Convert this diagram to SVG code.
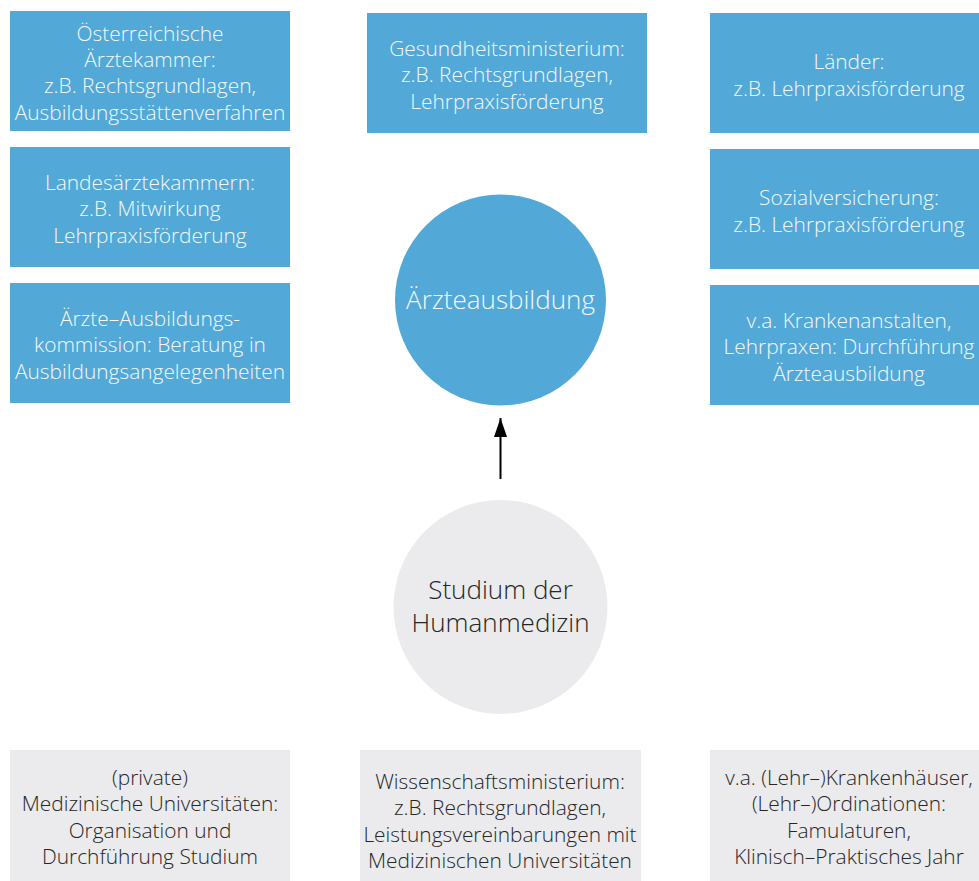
<svg xmlns="http://www.w3.org/2000/svg" width="979" height="881" viewBox="0 0 979 881">
<style>
.b{fill:#52a9d7}
.g{fill:#ebebed}
text{font-family:"Open Sans","Noto Sans",sans-serif;font-weight:300;font-size:20.9px;text-anchor:middle}
.w{fill:#f4f8fb}
.d{fill:#262626}
.big{font-size:26px}
</style>
<defs>
<marker id="ah" viewBox="0 0 19 13" refX="19" refY="6.5" markerWidth="9.5" markerHeight="6.5" orient="auto" markerUnits="strokeWidth">
<path d="M0,0 L19,6.5 L0,13 z" fill="#000"/>
</marker>
</defs>
<rect width="979" height="881" fill="#fff"/>
<g id="n1"><rect class="b" x="10" y="11" width="280" height="120"/>
<text class="w" x="150" y="41">Österreichische</text>
<text class="w" x="150" y="67">Ärztekammer:</text>
<text class="w" x="150" y="93">z.B. Rechtsgrundlagen,</text>
<text class="w" x="150" y="120">Ausbildungsstättenverfahren</text></g>
<g id="n2"><rect class="b" x="10" y="147" width="280" height="120"/>
<text class="w" x="150" y="190">Landesärztekammern:</text>
<text class="w" x="150" y="216">z.B. Mitwirkung</text>
<text class="w" x="150" y="243">Lehrpraxisförderung</text></g>
<g id="n3"><rect class="b" x="10" y="283" width="280" height="120"/>
<text class="w" x="150" y="326">Ärzte–Ausbildungs-</text>
<text class="w" x="150" y="352">kommission: Beratung in</text>
<text class="w" x="150" y="379">Ausbildungsangelegenheiten</text></g>
<g id="n4"><rect class="b" x="367" y="13" width="280" height="120"/>
<text class="w" x="507" y="56">Gesundheitsministerium:</text>
<text class="w" x="507" y="82">z.B. Rechtsgrundlagen,</text>
<text class="w" x="507" y="109">Lehrpraxisförderung</text></g>
<g id="n5"><rect class="b" x="710" y="13" width="269" height="120"/>
<text class="w" x="849" y="69">Länder:</text>
<text class="w" x="849" y="96">z.B. Lehrpraxisförderung</text></g>
<g id="n6"><rect class="b" x="710" y="149" width="269" height="120"/>
<text class="w" x="849" y="205">Sozialversicherung:</text>
<text class="w" x="849" y="232">z.B. Lehrpraxisförderung</text></g>
<g id="n7"><rect class="b" x="710" y="285" width="269" height="120"/>
<text class="w" x="849" y="328">v.a. Krankenanstalten,</text>
<text class="w" x="849" y="354">Lehrpraxen: Durchführung</text>
<text class="w" x="849" y="381">Ärzteausbildung</text></g>
<g id="c1"><circle class="b" cx="500.5" cy="300" r="105.5"/>
<text class="w big" x="500.5" y="309">Ärzteausbildung</text></g>
<g id="c2"><circle class="g" cx="500.5" cy="607" r="107"/>
<text class="d big" x="500.5" y="599">Studium der</text>
<text class="d big" x="500.5" y="632">Humanmedizin</text></g>
<g id="n8"><rect class="g" x="10" y="750" width="280" height="131"/>
<text class="d" x="150" y="785">(private)</text>
<text class="d" x="150" y="811">Medizinische Universitäten:</text>
<text class="d" x="150" y="838">Organisation und</text>
<text class="d" x="150" y="864">Durchführung Studium</text></g>
<g id="n9"><rect class="g" x="360" y="750" width="281" height="131"/>
<text class="d" x="500" y="789">Wissenschaftsministerium:</text>
<text class="d" x="500" y="815">z.B. Rechtsgrundlagen,</text>
<text class="d" x="500" y="842">Leistungsvereinbarungen mit</text>
<text class="d" x="500" y="868">Medizinischen Universitäten</text></g>
<g id="n10"><rect class="g" x="710" y="750" width="269" height="131"/>
<text class="d" x="849" y="785">v.a. (Lehr–)Krankenhäuser,</text>
<text class="d" x="849" y="811">(Lehr–)Ordinationen:</text>
<text class="d" x="849" y="838">Famulaturen,</text>
<text class="d" x="849" y="864">Klinisch–Praktisches Jahr</text></g>
<g id="connectors">
<line x1="500.5" y1="479" x2="500.5" y2="418" stroke="#000" stroke-width="2" marker-end="url(#ah)"/>
</g>
</svg>
